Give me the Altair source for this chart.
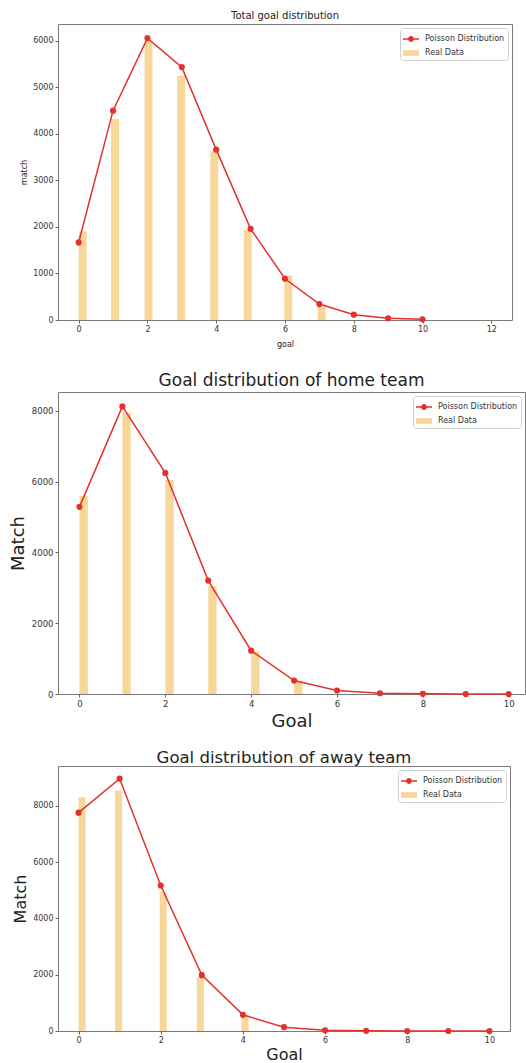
import altair as alt
import pandas as pd

# ---- data -------------------------------------------------------------
goals = list(range(11))

# total goals per match
total_poisson = [1667, 4500, 6060, 5436, 3662, 1960, 887, 343, 114, 36, 14]
total_real = [1910, 4320, 6000, 5250, 3620, 1940, 960, 290]
total_bin_left = [0.0, 0.943, 1.914, 2.866, 3.828, 4.80, 5.977, 6.949]
total_bin_width = 0.233

# home team goals
home_poisson = [5290, 8130, 6250, 3205, 1225, 380, 100, 22, 4, 1, 0]
home_real = [5600, 7960, 6050, 3050, 1200, 360]
home_bin_left = [0, 1, 2, 3, 4, 5]
home_bin_width = 0.195

# away team goals
away_poisson = [7760, 8970, 5170, 1985, 575, 135, 28, 5, 1, 0, 0]
away_real = [8310, 8540, 4950, 1920, 560]
away_bin_left = [0.0, 0.889, 1.974, 2.879, 3.964]
away_bin_width = 0.172

SERIES = ["Poisson Distribution", "Real Data"]
RED = "#e3322b"
BAR = "#f8d89a"
FONT = "DejaVu Sans"

# legend glyphs: a line with a dot, and a flat patch
POISSON_GLYPH = ("M-1,-0.09H1V0.09H-1Z "
                 "M0.36,0A0.36,0.36 0 1,1 -0.36,0A0.36,0.36 0 1,1 0.36,0Z")
PATCH_GLYPH = "M-1,-0.36H1V0.36H-1Z"


def panel(poisson, real, bin_left, bin_width, x_dom, x_ticks, y_ticks,
          title, x_title, y_title, width, height,
          title_size, axis_title_size, tick_size, title_offset, x_title_pad):
    line_df = pd.DataFrame({"goal": goals, "match": poisson})
    bar_df = pd.DataFrame({
        "left": bin_left,
        "right": [b + bin_width for b in bin_left],
        "match": real,
    })
    key_df = pd.DataFrame({
        "series": SERIES,
        "goal": [goals[0], bin_left[0]],
        "match": [poisson[0], real[0]],
    })

    # matplotlib-style autoscale: 5 % headroom above the tallest value
    y_top = 1.05 * max(max(poisson), max(real))
    xs = alt.Scale(domain=x_dom, nice=False, zero=False)
    ys = alt.Scale(domain=[0, y_top], nice=False)

    common = dict(grid=False, domain=False, tickSize=3, tickColor="#666",
                  labelPadding=2, labelFontSize=tick_size, labelColor="#333",
                  labelFont=FONT, titleFont=FONT, format="d",
                  titleFontSize=axis_title_size, titleFontWeight="normal",
                  titleColor="#222")
    x_axis = alt.Axis(values=x_ticks, title=x_title, titlePadding=x_title_pad,
                      **common)
    y_axis = alt.Axis(values=y_ticks, title=y_title, titlePadding=4, **common)

    bars = alt.Chart(bar_df).mark_rect(color=BAR).encode(
        x=alt.X("left:Q", scale=xs, axis=x_axis),
        x2="right:Q",
        y=alt.Y("match:Q", scale=ys, axis=y_axis),
        y2=alt.datum(0),
    )
    line = alt.Chart(line_df).mark_line(color=RED, strokeWidth=1.5).encode(
        x=alt.X("goal:Q", scale=xs),
        y=alt.Y("match:Q", scale=ys),
    )
    dots = alt.Chart(line_df).mark_circle(color=RED, size=38, opacity=1).encode(
        x=alt.X("goal:Q", scale=xs),
        y=alt.Y("match:Q", scale=ys),
    )

    legend = alt.Legend(
        title=None, orient="top-right", offset=4, padding=3,
        fillColor="white", strokeColor="#d0d0d0", cornerRadius=3,
        labelFont=FONT, labelFontSize=8, labelColor="#333",
        labelOffset=6, rowPadding=2,
        symbolSize=256, symbolOpacity=1, symbolStrokeWidth=0,
    )
    key = alt.Chart(key_df).mark_point(filled=True, opacity=0).encode(
        x=alt.X("goal:Q", scale=xs),
        y=alt.Y("match:Q", scale=ys),
        color=alt.Color("series:N",
                        scale=alt.Scale(domain=SERIES, range=[RED, BAR]),
                        legend=legend),
        shape=alt.Shape("series:N",
                        scale=alt.Scale(domain=SERIES,
                                        range=[POISSON_GLYPH, PATCH_GLYPH]),
                        legend=legend),
    )

    return alt.layer(bars, line, dots, key).properties(
        width=width, height=height,
        title=alt.Title(title, font=FONT, fontSize=title_size,
                        fontWeight="normal", color="#222", anchor="middle",
                        baseline="bottom", offset=title_offset),
    ).resolve_scale(color="independent", shape="independent")


p_total = panel(total_poisson, total_real, total_bin_left, total_bin_width,
                [-0.6, 12.6], [0, 2, 4, 6, 8, 10, 12],
                [0, 1000, 2000, 3000, 4000, 5000, 6000],
                "Total goal distribution", "goal", "match",
                454, 296, 10, 8, 8, -7, 7)
p_home = panel(home_poisson, home_real, home_bin_left, home_bin_width,
               [-0.5, 10.38], [0, 2, 4, 6, 8, 10],
               [0, 1000, 2000, 3000, 4000, 5000, 6000, 7000, 8000],
               "Goal distribution of home team", "Goal", "Match",
               467, 302, 17, 18, 8.5, -15, 5)
p_away = panel(away_poisson, away_real, away_bin_left, away_bin_width,
               [-0.5, 10.5], [0, 2, 4, 6, 8, 10],
               [0, 2000, 4000, 6000, 8000],
               "Goal distribution of away team", "Goal", "Match",
               452, 265, 16.5, 16, 8, -16, 2)

chart = alt.vconcat(p_total, p_home, p_away, spacing=72, bounds="flush").properties(
    padding={"left": 8, "top": 10, "right": 0, "bottom": 0},
).configure_view(stroke="#7a7a7a", strokeWidth=1)

chart.save("out.html", embed_options={"renderer": "svg", "actions": False})
